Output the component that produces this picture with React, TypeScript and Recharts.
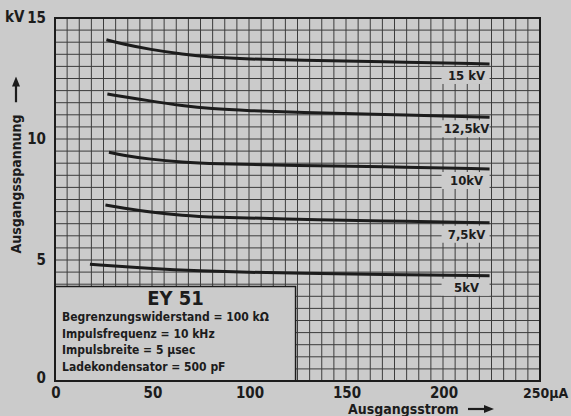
import { LineChart, Line, XAxis, YAxis, CartesianGrid, ReferenceArea, LabelList } from 'recharts'

const PAPER = '#cbcbcb'
const INK = '#1c1c1c'
const FONT = '"DejaVu Sans Condensed", "DejaVu Sans", sans-serif'

// Ausgangsstrom (µA) -> Ausgangsspannung (kV)
const curve15 = [
    { x: 26.5, y: 14.1 }, { x: 35, y: 13.92 }, { x: 49, y: 13.7 }, { x: 66, y: 13.5 },
    { x: 80, y: 13.38 }, { x: 100, y: 13.3 }, { x: 126, y: 13.25 }, { x: 167, y: 13.2 }, { x: 224, y: 13.1 },
]
const curve125 = [
    { x: 27, y: 11.86 }, { x: 49, y: 11.57 }, { x: 66, y: 11.37 }, { x: 80, y: 11.25 },
    { x: 100, y: 11.17 }, { x: 126, y: 11.1 }, { x: 167, y: 11.02 }, { x: 224, y: 10.9 },
]
const curve10 = [
    { x: 27.8, y: 9.45 }, { x: 35, y: 9.33 }, { x: 49, y: 9.16 }, { x: 66, y: 9.04 },
    { x: 80, y: 8.98 }, { x: 126, y: 8.9 }, { x: 167, y: 8.86 }, { x: 224, y: 8.76 },
]
const curve75 = [
    { x: 26, y: 7.27 }, { x: 35, y: 7.15 }, { x: 49, y: 6.98 }, { x: 66, y: 6.84 },
    { x: 80, y: 6.77 }, { x: 126, y: 6.68 }, { x: 167, y: 6.62 }, { x: 224, y: 6.54 },
]
const curve5 = [
    { x: 18, y: 4.82 }, { x: 49, y: 4.65 }, { x: 75, y: 4.55 }, { x: 100, y: 4.49 },
    { x: 126, y: 4.45 }, { x: 167, y: 4.4 }, { x: 224, y: 4.35 },
]

const series = [
    { name: '15 kV', data: curve15 },
    { name: '12,5kV', data: curve125 },
    { name: '10kV', data: curve10 },
    { name: '7,5kV', data: curve75 },
    { name: '5kV', data: curve5 },
]

// grid: 40 columns, 30 rows
const xTicks = Array.from({ length: 41 }, (_, i) => i * 6.25)
const yTicks = Array.from({ length: 31 }, (_, i) => i * 0.5)
const xLabels = [0, 50, 100, 150, 200, 250]
const yLabels = [0, 5, 10, 15]

const infoLines = [
    'Begrenzungswiderstand = 100 kΩ',
    'Impulsfrequenz = 10 kHz',
    'Impulsbreite = 5 µsec',
    'Ladekondensator = 500 pF',
]

function XTick({ x, y, payload }: any) {
    const v = payload.value
    if (!xLabels.includes(v)) return null
    if (v === 250) {
        return (
            <text x={x - 17} y={y + 9} textAnchor="start" fontFamily={FONT} fontWeight={700} fontSize={14} fill={INK}>
                250µA
            </text>
        )
    }
    return (
        <text x={x + 1} y={y + 9} textAnchor="middle" fontFamily={FONT} fontWeight={700} fontSize={15} fill={INK}>
            {v}
        </text>
    )
}

function YTick({ x, y, payload }: any) {
    const v = payload.value
    if (!yLabels.includes(v)) return null
    return (
        <text x={x - 1} y={y + (v === 0 ? 2 : 5)} textAnchor="end" fontFamily={FONT} fontWeight={700} fontSize={15} fill={INK}>
            {v}
        </text>
    )
}

function EndLabel(props: any) {
    const { x, y, index, value, count } = props
    if (index !== count - 1) return null
    return (
        <g>
            <rect x={x - 48} y={y + 3} width={48} height={17} fill={PAPER} />
            <text x={x - 23} y={y + 16} textAnchor="middle" fontFamily={FONT} fontWeight={700} fontSize={13} fill={INK}>
                {value}
            </text>
        </g>
    )
}

function Arrow({ length }: { length: number }) {
    return (
        <svg width={length} height={10} style={{ verticalAlign: 'middle' }}>
            <line x1={0} y1={5} x2={length - 8} y2={5} stroke={INK} strokeWidth={2.2} />
            <polygon points={`${length - 10},1 ${length},5 ${length - 10},9`} fill={INK} />
        </svg>
    )
}

export default function App() {
    return (
        <div style={{ position: 'fixed', left: 0, top: 0, width: 571, height: 416, background: PAPER, overflow: 'hidden' }}>
            <LineChart width={571} height={416} margin={{ top: 18, right: 31, bottom: 5, left: 15 }}>
                <CartesianGrid stroke="#3c3c3c" strokeWidth={1} />
                <XAxis
                    type="number"
                    dataKey="x"
                    domain={[0, 250]}
                    ticks={xTicks}
                    interval={0}
                    height={30}
                    tickLine={false}
                    axisLine={{ stroke: INK, strokeWidth: 2 }}
                    tick={<XTick />}
                />
                <YAxis
                    type="number"
                    dataKey="y"
                    domain={[0, 15]}
                    ticks={yTicks}
                    interval={0}
                    width={40}
                    tickLine={false}
                    axisLine={{ stroke: INK, strokeWidth: 2 }}
                    tick={<YTick />}
                />
                <ReferenceArea x1={0} x2={250} y1={0} y2={15} fill="none" stroke={INK} strokeWidth={2} />
                <ReferenceArea x1={0} x2={124} y1={0} y2={3.9} fill={PAPER} fillOpacity={1} stroke={INK} strokeWidth={1.5} />
                {series.map((s) => (
                    <Line
                        key={s.name}
                        data={s.data.map((d) => ({ ...d, label: s.name }))}
                        dataKey="y"
                        type="basis"
                        stroke={INK}
                        strokeWidth={3}
                        dot={false}
                        isAnimationActive={false}
                    >
                        <LabelList dataKey="label" content={<EndLabel count={s.data.length} />} />
                    </Line>
                ))}
            </LineChart>

            <div style={{ position: 'absolute', left: 5, top: 8, fontFamily: FONT, fontWeight: 700, fontSize: 15, color: INK }}>kV</div>
            <div
                style={{
                    position: 'absolute',
                    left: 16,
                    top: 165,
                    transform: 'translate(-50%, -50%) rotate(-90deg)',
                    whiteSpace: 'nowrap',
                    fontFamily: FONT,
                    fontWeight: 700,
                    fontSize: 14,
                    lineHeight: '16px',
                    color: INK,
                    display: 'flex',
                    alignItems: 'center',
                    gap: 12,
                }}
            >
                <span>Ausgangsspannung</span>
                <Arrow length={26} />
            </div>
            <div
                style={{
                    position: 'absolute',
                    left: 348,
                    top: 401,
                    whiteSpace: 'nowrap',
                    fontFamily: FONT,
                    fontWeight: 700,
                    fontSize: 14,
                    lineHeight: '16px',
                    color: INK,
                    display: 'flex',
                    alignItems: 'center',
                    gap: 9,
                }}
            >
                <span>Ausgangsstrom</span>
                <Arrow length={26} />
            </div>

            <div style={{ position: 'absolute', left: 55, top: 287, width: 241, textAlign: 'center', fontFamily: FONT, fontWeight: 700, fontSize: 20, lineHeight: '22px', color: INK }}>
                EY 51
            </div>
            <div style={{ position: 'absolute', left: 62, top: 309, fontFamily: FONT, fontWeight: 700, fontSize: 12, lineHeight: '16.7px', color: INK, whiteSpace: 'nowrap' }}>
                {infoLines.map((l) => (
                    <div key={l}>{l}</div>
                ))}
            </div>
        </div>
    )
}
